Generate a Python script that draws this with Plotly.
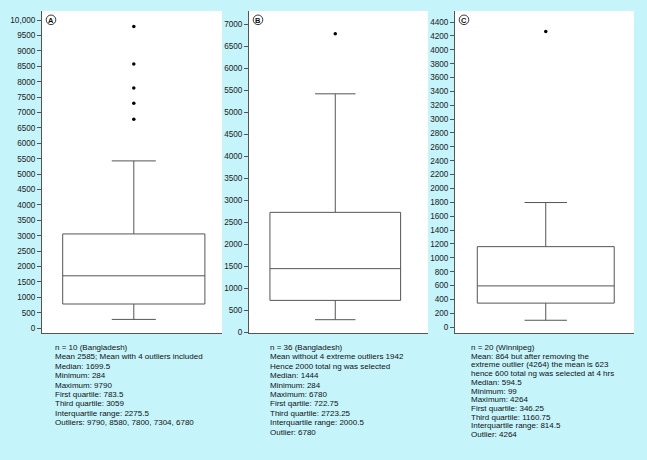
import plotly.graph_objects as go

# ---------------- data ----------------
panel_letters = ["A", "B", "C"]

a_q1, a_median, a_q3, a_min, a_upper = 783.5, 1699.5, 3059, 284, 5430
a_outliers = [9790, 8580, 7800, 7304, 6780]

b_q1, b_median, b_q3, b_min, b_upper = 722.75, 1444, 2723.25, 284, 5416
b_outliers = [6780]

c_q1, c_median, c_q3, c_min, c_upper = 346.25, 594.5, 1160.75, 99, 1797
c_outliers = [4264]

a_ticks = list(range(0, 10001, 500))
a_ticktext = [str(v) if v < 10000 else "10,000" for v in a_ticks]
b_ticks = list(range(0, 7001, 500))
b_ticktext = [str(v) for v in b_ticks]
c_ticks = list(range(0, 4401, 200))
c_ticktext = [str(v) for v in c_ticks]

a_text = [
    "n = 10 (Bangladesh)",
    "Mean 2585; Mean with 4 outliers included",
    "Median: 1699.5",
    "Minimum: 284",
    "Maximum: 9790",
    "First quartile: 783.5",
    "Third quartile: 3059",
    "Interquartile range: 2275.5",
    "Outliers: 9790, 8580, 7800, 7304, 6780",
]
b_text = [
    "n = 36 (Bangladesh)",
    "Mean without 4 extreme outliers 1942",
    "Hence 2000 total ng was selected",
    "Median: 1444",
    "Minimum: 284",
    "Maximum: 6780",
    "First qartile: 722.75",
    "Third quartile: 2723.25",
    "Interquartile range: 2000.5",
    "Outlier: 6780",
]
c_text = [
    "n = 20 (Winnipeg)",
    "Mean: 864 but after removing the",
    "extreme outlier (4264) the mean is 623",
    "hence 600 total ng was selected at 4 hrs",
    "Median: 594.5",
    "Minimum: 99",
    "Maximum: 4264",
    "First quartile: 346.25",
    "Third quartile: 1160.75",
    "Interquartile range: 814.5",
    "Outlier: 4264",
]

# ---------------- layout constants ----------------
W, H = 647, 460
BG = "#c6f4fb"
LINE = "#555555"
FONT = "Liberation Sans, Arial, sans-serif"

px_x = [(42, 222), (249, 428), (455, 634)]
top_px, bot_px = 11, 336
yranges = [[-160, 10300], [-20, 7300], [-86, 4561]]
box_pos = [0.51, 0.482, 0.507]
box_w = [0.79, 0.73, 0.765]
text_x = [52.7, 267.7, 469]
text_y0 = 350.5
line_h = [9.5, 9.5, 8.8]

stats = [
    (a_q1, a_median, a_q3, a_min, a_upper, a_outliers),
    (b_q1, b_median, b_q3, b_min, b_upper, b_outliers),
    (c_q1, c_median, c_q3, c_min, c_upper, c_outliers),
]
ticks = [(a_ticks, a_ticktext), (b_ticks, b_ticktext), (c_ticks, c_ticktext)]
texts = [a_text, b_text, c_text]

fig = go.Figure()
annotations = []
shapes = []

for i in range(3):
    sfx = "" if i == 0 else str(i + 1)
    q1, med, q3, lo, up, outs = stats[i]
    fig.add_trace(go.Box(
        x=[box_pos[i]], q1=[q1], median=[med], q3=[q3],
        lowerfence=[lo], upperfence=[up],
        width=box_w[i], whiskerwidth=0.31,
        fillcolor="white", line=dict(color=LINE, width=1),
        boxpoints=False, showlegend=False,
        xaxis="x" + sfx, yaxis="y" + sfx, hoverinfo="skip",
    ))
    fig.add_trace(go.Scatter(
        x=[box_pos[i]] * len(outs), y=outs, mode="markers",
        marker=dict(color="black", size=3.5),
        showlegend=False, xaxis="x" + sfx, yaxis="y" + sfx, hoverinfo="skip",
    ))
    x0, x1 = px_x[i]
    fig.update_layout(**{
        "xaxis" + sfx: dict(
            domain=[x0 / W, x1 / W], range=[0, 1], showticklabels=False,
            showgrid=False, zeroline=False, showline=True, linecolor=LINE,
            linewidth=1, ticks="", anchor="y" + sfx, fixedrange=True,
        ),
        "yaxis" + sfx: dict(
            domain=[1 - bot_px / H, 1 - top_px / H], range=yranges[i],
            tickvals=ticks[i][0], ticktext=ticks[i][1],
            showgrid=False, zeroline=False, showline=True, linecolor=LINE,
            linewidth=1, ticks="outside", ticklen=4, tickcolor=LINE,
            tickfont=dict(size=8.2, color="#222222", family=FONT),
            anchor="x" + sfx, fixedrange=True,
        ),
    })
    # circled panel letter
    cx, cy = x0 + 9, 20
    shapes.append(dict(
        type="circle", xref="paper", yref="paper",
        xsizemode="pixel", ysizemode="pixel",
        xanchor=cx / W, yanchor=1 - cy / H,
        x0=-4.8, x1=4.8, y0=-4.8, y1=4.8,
        line=dict(color="#222222", width=0.9),
    ))
    annotations.append(dict(
        x=cx / W, y=1 - (cy + 0.3) / H, xref="paper", yref="paper",
        text="<b>" + panel_letters[i] + "</b>", showarrow=False,
        font=dict(size=7.5, color="#111111", family=FONT),
        xanchor="center", yanchor="middle",
    ))
    # description text
    for k, line in enumerate(texts[i]):
        annotations.append(dict(
            x=text_x[i] / W, y=1 - (text_y0 + k * line_h[i]) / H,
            xref="paper", yref="paper", text=line, showarrow=False,
            xanchor="left", yanchor="middle",
            font=dict(size=8, color="#111111", family=FONT),
        ))

fig.update_layout(
    width=W, height=H, margin=dict(l=0, r=0, t=0, b=0),
    paper_bgcolor=BG, plot_bgcolor="white",
    annotations=annotations, shapes=shapes, showlegend=False,
    font=dict(family=FONT),
)

fig.write_html(
    "out.html",
    config={"displayModeBar": False, "staticPlot": True},
    post_script="document.body.style.margin='0';document.body.style.overflow='hidden';",
)
